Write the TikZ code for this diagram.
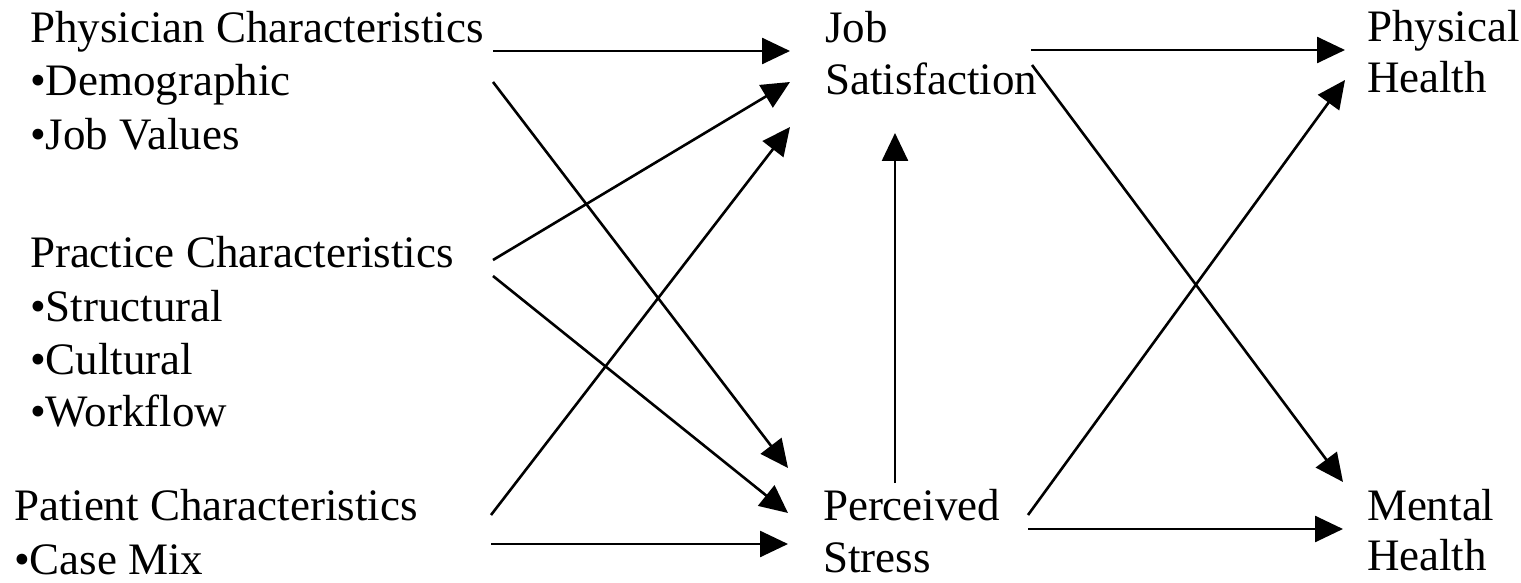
\documentclass[tikz,border=0pt]{standalone}
\usepackage{fontspec}
\setmainfont{Liberation Serif}
\usetikzlibrary{arrows.meta}
\begin{document}
\begin{tikzpicture}[x=0.5pt,y=-0.5pt,
  lbl/.style={anchor=base west,inner sep=0pt,outer sep=0pt,font=\fontsize{22.5}{26}\selectfont},
  arr/.style={-{Triangle[length=14pt,width=13pt]},line width=1.3pt}]
\useasboundingbox (0,0) rectangle (1521,583);
% left column
\node[lbl] (phys)  at (30,43)  {Physician Characteristics};
\node[lbl] (physa) at (30,96)  {•Demographic};
\node[lbl] (physb) at (30,149) {•Job Values};
\node[lbl] (prac)  at (30,267) {Practice Characteristics};
\node[lbl] (praca) at (30,321) {•Structural};
\node[lbl] (pracb) at (30,374) {•Cultural};
\node[lbl] (pracc) at (30,426) {•Workflow};
\node[lbl] (pat)   at (14,520) {Patient Characteristics};
\node[lbl] (pata)  at (14,574) {•Case Mix};
% middle column
\node[lbl] (js)  at (825,43) {Job};
\node[lbl] (jsb) at (825,95) {Satisfaction};
\node[lbl] (ps)  at (823,520) {Perceived};
\node[lbl] (psb) at (823,572) {Stress};
% right column
\node[lbl] (ph)  at (1367,42) {Physical};
\node[lbl] (phb) at (1367,93) {Health};
\node[lbl] (mh)  at (1367,520) {Mental};
\node[lbl] (mhb) at (1367,570) {Health};
% connector ports
\coordinate (physO1) at (493,51);
\coordinate (physO2) at (493,82);
\coordinate (pracO1) at (493,260);
\coordinate (pracO2) at (493,276);
\coordinate (patO1) at (491,515);
\coordinate (patO2) at (491,544);
\coordinate (jsI1) at (790,51);
\coordinate (jsI2) at (790,82);
\coordinate (jsI3) at (790,127);
\coordinate (jsI4) at (895,133);
\coordinate (psI1) at (788,468);
\coordinate (psI2) at (788,513);
\coordinate (psI3) at (788,544);
\coordinate (psO0) at (895,483);
\coordinate (jsO1) at (1031,50);
\coordinate (jsO2) at (1032,65);
\coordinate (psO1) at (1028,515);
\coordinate (psO2) at (1028,529);
\coordinate (phI1) at (1345,50);
\coordinate (phI2) at (1345,80);
\coordinate (mhI1) at (1343,482);
\coordinate (mhI2) at (1343,529);
% connectors
\draw[arr] (physO1) -- (jsI1);
\draw[arr] (physO2) -- (psI1);
\draw[arr] (pracO1) -- (jsI2);
\draw[arr] (pracO2) -- (psI2);
\draw[arr] (patO1) -- (jsI3);
\draw[arr] (patO2) -- (psI3);
\draw[arr] (psO0) -- (jsI4);
\draw[arr] (jsO1) -- (phI1);
\draw[arr] (jsO2) -- (mhI1);
\draw[arr] (psO1) -- (phI2);
\draw[arr] (psO2) -- (mhI2);
\end{tikzpicture}
\end{document}
